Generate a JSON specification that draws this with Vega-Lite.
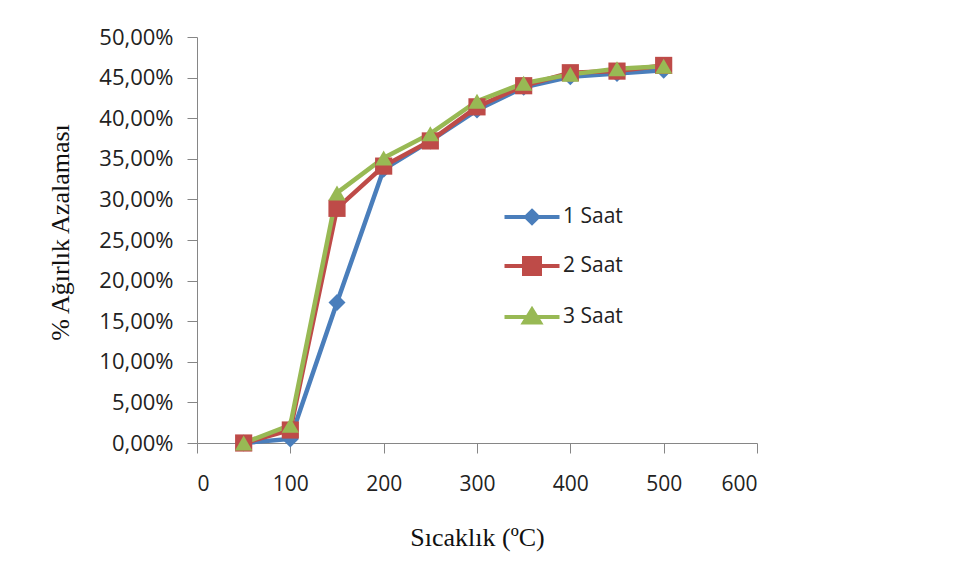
{
  "$schema": "https://vega.github.io/schema/vega-lite/v6.json",
  "autosize": {"type": "none"},
  "width": 560,
  "height": 406,
  "padding": {"left": 197, "top": 37, "right": 200, "bottom": 136},
  "background": "white",
  "config": {
    "view": {"stroke": null},
    "font": "Open Sans",
    "axis": {"grid": false, "domainColor": "#868686", "tickColor": "#868686", "domainWidth": 1, "tickWidth": 1, "labelFont": "Open Sans", "labelFontSize": 21, "labelColor": "#222222", "titleFont": "Liberation Serif", "titleFontWeight": "normal", "titleFontSize": 26, "titleColor": "#111111"},
    "legend": {"labelFont": "Open Sans", "labelFontSize": 21, "labelColor": "#222222", "padding": 0}
  },
  "data": {
    "values": [
      {"T": 50, "v": 0.000, "s": "1 Saat"},
      {"T": 100, "v": 0.005, "s": "1 Saat"},
      {"T": 150, "v": 0.173, "s": "1 Saat"},
      {"T": 200, "v": 0.337, "s": "1 Saat"},
      {"T": 250, "v": 0.372, "s": "1 Saat"},
      {"T": 300, "v": 0.410, "s": "1 Saat"},
      {"T": 350, "v": 0.438, "s": "1 Saat"},
      {"T": 400, "v": 0.451, "s": "1 Saat"},
      {"T": 450, "v": 0.455, "s": "1 Saat"},
      {"T": 500, "v": 0.459, "s": "1 Saat"},
      {"T": 50, "v": 0.000, "s": "2 Saat"},
      {"T": 100, "v": 0.016, "s": "2 Saat"},
      {"T": 150, "v": 0.289, "s": "2 Saat"},
      {"T": 200, "v": 0.341, "s": "2 Saat"},
      {"T": 250, "v": 0.372, "s": "2 Saat"},
      {"T": 300, "v": 0.414, "s": "2 Saat"},
      {"T": 350, "v": 0.440, "s": "2 Saat"},
      {"T": 400, "v": 0.456, "s": "2 Saat"},
      {"T": 450, "v": 0.458, "s": "2 Saat"},
      {"T": 500, "v": 0.465, "s": "2 Saat"},
      {"T": 50, "v": 0.000, "s": "3 Saat"},
      {"T": 100, "v": 0.022, "s": "3 Saat"},
      {"T": 150, "v": 0.308, "s": "3 Saat"},
      {"T": 200, "v": 0.351, "s": "3 Saat"},
      {"T": 250, "v": 0.381, "s": "3 Saat"},
      {"T": 300, "v": 0.421, "s": "3 Saat"},
      {"T": 350, "v": 0.443, "s": "3 Saat"},
      {"T": 400, "v": 0.454, "s": "3 Saat"},
      {"T": 450, "v": 0.461, "s": "3 Saat"},
      {"T": 500, "v": 0.464, "s": "3 Saat"}
    ]
  },
  "encoding": {
    "x": {"field": "T", "type": "quantitative", "scale": {"domain": [0, 600], "nice": false, "zero": false},
      "axis": {"values": [0, 100, 200, 300, 400, 500, 600], "tickSize": 10, "labelPadding": 20, "title": "Sıcaklık (ºC)", "titleBaseline": "alphabetic", "titleY": 102, "titleX": 280}},
    "y": {"field": "v", "type": "quantitative", "scale": {"domain": [0, 0.5], "nice": false},
      "axis": {"values": [0, 0.05, 0.1, 0.15, 0.2, 0.25, 0.3, 0.35, 0.4, 0.45, 0.5], "tickSize": 10, "labelPadding": 14, "labelFontSize": 22, "labelExpr": "replace(format(datum.value, '.2%'), '.', ',')", "title": "% Ağırlık Azalaması", "titleAngle": -90, "titleBaseline": "alphabetic", "titleAlign": "center", "titleX": -129, "titleY": 195}}
  },
  "layer": [
    {
      "mark": {"type": "line", "strokeWidth": 4.5},
      "encoding": {
        "color": {"field": "s", "type": "nominal", "scale": {"domain": ["1 Saat", "2 Saat", "3 Saat"], "range": ["#4A7EBB", "#BE4B48", "#98B954"]}, "legend": null}
      }
    },
    {
      "mark": {"type": "point", "filled": true, "opacity": 1},
      "encoding": {
        "color": {"field": "s", "type": "nominal", "legend": null},
        "shape": {"field": "s", "type": "nominal", "scale": {"domain": ["1 Saat", "2 Saat", "3 Saat"], "range": ["diamond", "square", "triangle-up"]}, "legend": null},
        "size": {"field": "s", "type": "nominal", "scale": {"domain": ["1 Saat", "2 Saat", "3 Saat"], "range": [290, 300, 390]}, "legend": null}
      }
    },
    {
      "mark": {"type": "point", "opacity": 0, "strokeWidth": 4, "size": 400},
      "encoding": {
        "stroke": {"field": "s", "type": "nominal", "scale": {"domain": ["1 Saat", "2 Saat", "3 Saat"], "range": ["#4A7EBB", "#BE4B48", "#98B954"]}, "legend": {"orient": "none", "legendX": 323, "legendY": 168, "title": null, "rowPadding": 19, "labelOffset": 19, "symbolSize": 400, "symbolStrokeWidth": 4, "symbolOpacity": 1}},
        "fill": {"field": "s", "type": "nominal", "scale": {"domain": ["1 Saat", "2 Saat", "3 Saat"], "range": ["#4A7EBB", "#BE4B48", "#98B954"]}, "legend": {"orient": "none", "legendX": 323, "legendY": 168, "title": null, "rowPadding": 19, "labelOffset": 19, "symbolSize": 400, "symbolStrokeWidth": 4, "symbolOpacity": 1}},
        "shape": {"field": "s", "type": "nominal", "scale": {"domain": ["1 Saat", "2 Saat", "3 Saat"], "range": ["M-2.75,0H2.75M0,-0.6L0.6,0L0,0.6L-0.6,0Z", "M-2.75,0H2.75M-0.8,-0.8H0.8V0.8H-0.8Z", "M-2.75,0H2.75M0,-0.75L0.8,0.55H-0.8Z"]}, "legend": {"orient": "none", "legendX": 323, "legendY": 168, "title": null, "rowPadding": 19, "labelOffset": 19, "symbolSize": 400, "symbolStrokeWidth": 4, "symbolOpacity": 1}}
      }
    }
  ],
  "resolve": {"scale": {"shape": "independent", "size": "independent", "stroke": "independent", "fill": "independent"}, "legend": {"shape": "independent", "stroke": "independent", "fill": "independent"}}
}
